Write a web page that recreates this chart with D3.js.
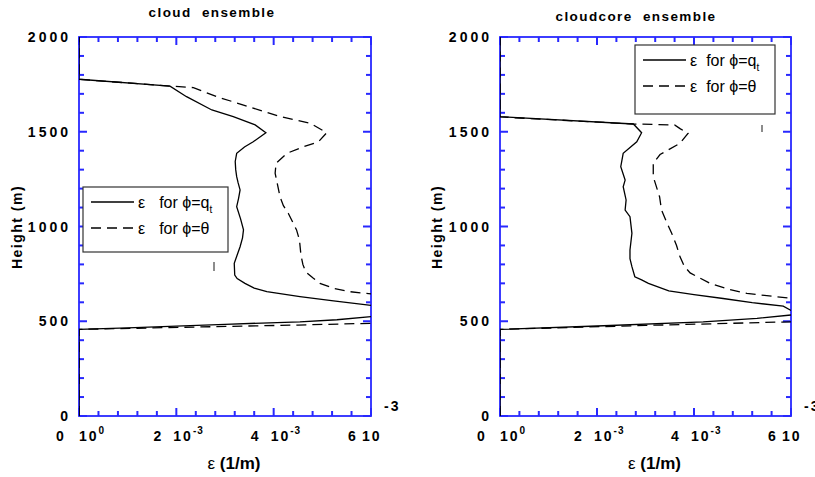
<!DOCTYPE html>
<html lang="en">
<head>
<meta charset="utf-8">
<script src="https://d3js.org/d3.v7.min.js"></script>
<style>
  body { margin: 0; background: #fff; }
  text { font-family: "Liberation Sans", Arial, sans-serif; fill: #000; }
  .tick-label { font-size: 14px; font-weight: bold; letter-spacing: 3px; }
  .x-label { font-size: 14px; font-weight: bold; letter-spacing: 2px; }
  .title { font-size: 13.5px; font-weight: bold; letter-spacing: 1.4px; white-space: pre; }
  .legend { font-size: 16px; white-space: pre; }
</style>
</head>
<body>
<svg id="chart" width="815" height="477"></svg>
<script>
// epsilon in units of 10^-3 1/m, height in m
var cloudQtEps = [0,0,1.0,2.0,3.0,4.54,5.3,6.0,7.0,7.3,6.0,5.23,4.54,3.86,3.6,3.41,3.25,3.2,3.19,3.25,3.31,3.36,3.38,3.32,3.24,3.28,3.31,3.27,3.24,3.22,3.21,3.24,3.4,3.58,3.84,3.62,3.17,2.73,2.21,1.87,0,0];
var cloudQtHgt = [0,457,465,474,484,497,508,524,548,560,584,607,630,656,675,700,725,744,806,850,893,940,982,1040,1105,1150,1193,1230,1263,1300,1343,1386,1420,1447,1495,1536,1580,1615,1685,1741,1777,2000];

var cloudThEps = [0,0,2.5,4.5,6.0,7.5,7.5,6.0,5.57,5.25,4.95,4.81,4.66,4.6,4.56,4.53,4.47,4.3,4.2,4.13,4.08,4.03,4.05,4.27,4.6,4.92,5.09,4.75,4.13,3.38,2.83,2.35,1.87,0,0];
var cloudThHgt = [0,457,470,480,489,500,630,644,656,672,700,728,760,800,850,929,982,1070,1110,1157,1220,1281,1334,1386,1420,1447,1495,1545,1580,1641,1685,1733,1741,1777,2000];

var coreQtEps = [0,0,2.0,4.19,5.3,6.0,6.4,6.0,5.84,5.2,4.6,4.0,3.48,3.06,2.92,2.78,2.72,2.68,2.68,2.72,2.68,2.58,2.6,2.54,2.58,2.49,2.54,2.82,2.92,2.75,0,0];
var coreQtHgt = [0,457,475,497,515,533,545,557,580,598,620,640,660,700,718,735,788,830,876,964,1052,1087,1140,1210,1245,1316,1386,1447,1495,1541,1580,2000];

var coreThEps = [0,0,3.0,6.0,7.5,7.5,6.0,5.09,4.7,4.33,3.92,3.8,3.71,3.64,3.54,3.44,3.33,3.29,3.2,3.16,3.16,3.3,3.71,3.88,3.72,3.6,2.75,0,0];
var coreThHgt = [0,457,478,497,510,600,621,647,670,700,755,790,841,900,964,1020,1087,1157,1230,1263,1334,1380,1439,1492,1515,1536,1541,1578,2000];

var titles = ["cloud  ensemble", "cloudcore  ensemble"];
var heightTicks = [0, 500, 1000, 1500, 2000];
var epsTickVals = [0, 2, 4, 6];
var epsTickMant = ["0", "2", "4", "6"];
var epsTickExp = ["0", "-3", "-3", ""];
var legendSymbols = ["q", "\u03b8"];

var svg = d3.select("#chart");
var blue = "#2828ff";

var panels = [
    { left: 79, right: 371, titleX: 212, titleY: 17, ylabX: 22, legend: [83, 187, 228, 252], gap: 14, stray: [214, 262, 271],
      qt: [cloudQtEps, cloudQtHgt], th: [cloudThEps, cloudThHgt] },
    { left: 500, right: 791, titleX: 636, titleY: 21, ylabX: 442, legend: [635, 45, 775, 114], gap: 9, stray: [762, 125, 132],
      qt: [coreQtEps, coreQtHgt], th: [coreThEps, coreThHgt] }
];
var plotTop = 37, plotBottom = 416;

panels.forEach(function(p, i) {
    var x = d3.scaleLinear().domain([0, 6]).range([p.left, p.right]);
    var y = d3.scaleLinear().domain([0, 2000]).range([plotBottom, plotTop]);
    var g = svg.append("g");

    g.append("text").attr("class", "title")
        .attr("x", p.titleX).attr("y", p.titleY)
        .attr("text-anchor", "middle").text(titles[i]);

    // inward ticks: minor every 0.4e-3 / 100 m, major every 2e-3 / 500 m
    var ticks = [];
    d3.range(0, 6.01, 0.4).forEach(function(v) {
        var len = Math.abs(v / 2 - Math.round(v / 2)) < 1e-6 ? 8 : 5;
        ticks.push([x(v), plotBottom, x(v), plotBottom - len]);
        ticks.push([x(v), plotTop, x(v), plotTop + len]);
    });
    d3.range(0, 2001, 100).forEach(function(v) {
        var len = v % 500 === 0 ? 8 : 5;
        ticks.push([p.left, y(v), p.left + len, y(v)]);
        ticks.push([p.right, y(v), p.right - len, y(v)]);
    });
    g.append("g").selectAll("line").data(ticks).enter().append("line")
        .attr("x1", function(d) { return d[0]; }).attr("y1", function(d) { return d[1]; })
        .attr("x2", function(d) { return d[2]; }).attr("y2", function(d) { return d[3]; })
        .attr("stroke", blue).attr("stroke-width", 2);
    g.append("rect").attr("x", p.left).attr("y", plotTop)
        .attr("width", p.right - p.left).attr("height", plotBottom - plotTop)
        .attr("fill", "none").attr("stroke", blue).attr("stroke-width", 1.8);

    // data, clipped to the plot box
    var clip = svg.append("defs").append("clipPath").attr("id", "clip" + i);
    clip.append("rect").attr("x", p.left).attr("y", plotTop)
        .attr("width", p.right - p.left).attr("height", plotBottom - plotTop);
    var line = d3.line().x(function(d) { return x(d[0]); }).y(function(d) { return y(d[1]); });
    function pts(s) { return s[0].map(function(e, k) { return [e, s[1][k]]; }); }
    var dg = g.append("g").attr("clip-path", "url(#clip" + i + ")");
    dg.append("path").attr("d", line(pts(p.th))).attr("fill", "none")
        .attr("stroke", "#000").attr("stroke-width", 1.3).attr("stroke-dasharray", "10,6");
    dg.append("path").attr("d", line(pts(p.qt))).attr("fill", "none")
        .attr("stroke", "#000").attr("stroke-width", 1.3);

    // height tick labels
    heightTicks.forEach(function(h) {
        g.append("text").attr("class", "tick-label")
            .attr("x", p.left - 8).attr("y", y(h) + 5)
            .attr("text-anchor", "end").text(h);
    });

    // epsilon tick labels, e.g. "2 10^-3"
    epsTickVals.forEach(function(t, k) {
        var xv = x(t);
        g.append("text").attr("class", "x-label")
            .attr("x", xv - 18).attr("y", 441).attr("text-anchor", "middle")
            .text(epsTickMant[k]);
        var sx = t === 0 ? xv : (epsTickExp[k] ? xv - 3 : xv - 9);
        var tx = g.append("text").attr("class", "x-label").attr("x", sx).attr("y", 441);
        tx.append("tspan").text("10");
        if (epsTickExp[k]) {
            tx.append("tspan").attr("font-size", "10px").attr("dy", -7).attr("letter-spacing", "1px").text(epsTickExp[k]);
        } else {
            g.append("text").attr("class", "x-label").attr("font-size", "10px")
                .attr("x", xv + 13).attr("y", 411).text("-3");
        }
    });

    // axis titles
    var xl = g.append("text").attr("font-size", "17px").attr("font-weight", "bold")
        .attr("x", (p.left + p.right) / 2 + 9).attr("y", 469).attr("text-anchor", "middle");
    xl.append("tspan").attr("font-weight", "normal").text("\u03b5");
    xl.append("tspan").text(" (1/m)");
    g.append("text").attr("font-size", "14px").attr("font-weight", "bold").attr("letter-spacing", "1.5px")
        .attr("transform", "translate(" + p.ylabX + ",227) rotate(-90)")
        .attr("text-anchor", "middle").text("Height  (m)");

    // legend
    var L = p.legend;
    g.append("rect").attr("x", L[0]).attr("y", L[1]).attr("width", L[2] - L[0]).attr("height", L[3] - L[1])
        .attr("fill", "#fff").attr("stroke", "#333").attr("stroke-width", 1.2);
    var rowY = [L[1] + 15, L[1] + 41];
    [0, 1].forEach(function(r) {
        g.append("line").attr("x1", L[0] + 8).attr("x2", L[0] + 51)
            .attr("y1", rowY[r]).attr("y2", rowY[r])
            .attr("stroke", "#000").attr("stroke-width", 1.5)
            .attr("stroke-dasharray", r === 1 ? "10,6" : null);
        var t = g.append("text").attr("class", "legend").attr("x", L[0] + 55).attr("y", rowY[r] + 6);
        t.append("tspan").text("\u03b5");
        t.append("tspan").attr("dx", p.gap).text("for \u03d5=" + legendSymbols[r]);
        if (r === 0) t.append("tspan").attr("font-size", "10px").attr("dy", 5).text("t");
    });

    // small stray mark
    g.append("line").attr("x1", p.stray[0]).attr("x2", p.stray[0])
        .attr("y1", p.stray[1]).attr("y2", p.stray[2])
        .attr("stroke", "#666").attr("stroke-width", 1.5);
});
</script>
</body>
</html>
